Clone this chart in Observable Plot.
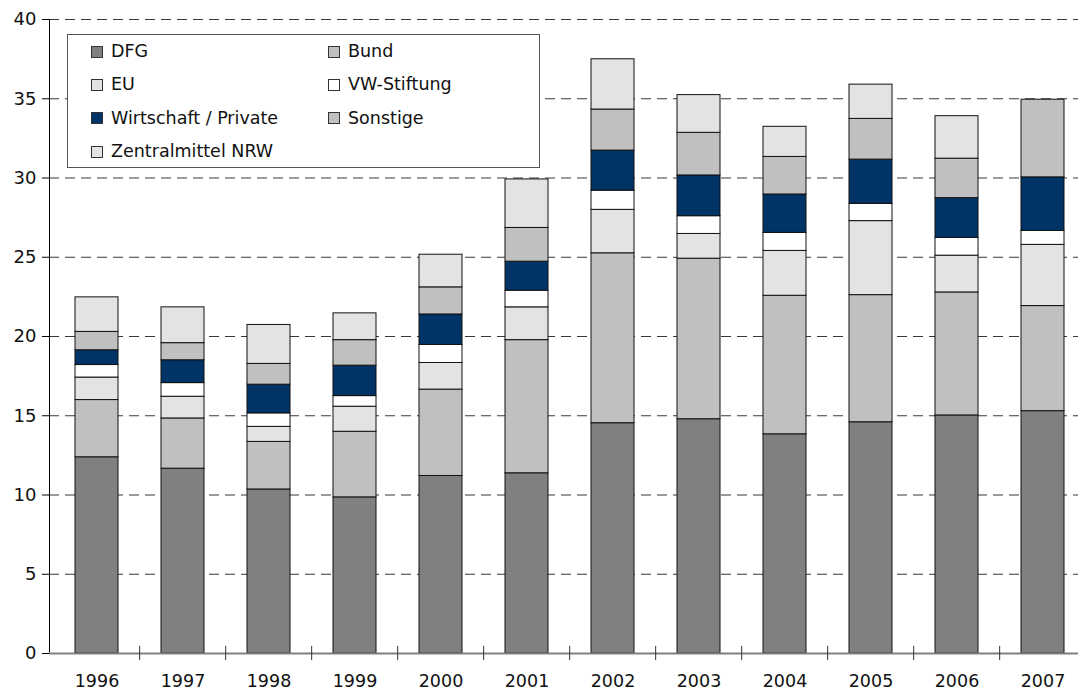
<!DOCTYPE html>
<html><head><meta charset="utf-8">
<script src="https://cdn.jsdelivr.net/npm/d3@7"></script>
<script src="https://cdn.jsdelivr.net/npm/@observablehq/plot@0.6"></script>
<style>
html,body{margin:0;padding:0;background:#fff;overflow:hidden;}
#wrap{position:relative;width:1078px;height:692px;overflow:hidden;font-family:"DejaVu Sans",sans-serif;}
#legend{position:absolute;left:67px;top:34px;width:471px;height:132px;border:1px solid #555;background:#fff;}
.item{position:absolute;height:20px;display:flex;align-items:center;font-size:17.5px;color:#111;white-space:nowrap;line-height:1;}
.sw{width:10px;height:10px;border:1px solid #333;margin-right:8px;flex:none;}
</style></head><body>
<div id="wrap"><div id="chart"></div><div id="legend"></div></div>
<script>
const years = ["1996","1997","1998","1999","2000","2001","2002","2003","2004","2005","2006","2007"];
const seriesNames = ["DFG","Bund","EU","VW-Stiftung","Wirtschaft / Private","Sonstige","Zentralmittel NRW"];
const seriesColors = ["#808080","#c0c0c0","#e3e3e3","#ffffff","#003366","#c0c0c0","#e3e3e3"];
const dfg      = [12.38, 11.66, 10.35, 9.85, 11.20, 11.37, 14.53, 14.78, 13.83, 14.59, 15.02, 15.29];
const bund     = [3.61, 3.17, 3.00, 4.14, 5.45, 8.40, 10.72, 10.13, 8.74, 8.02, 7.76, 6.63];
const eu       = [1.42, 1.37, 0.95, 1.58, 1.68, 2.07, 2.74, 1.56, 2.83, 4.67, 2.32, 3.86];
const vw       = [0.79, 0.86, 0.85, 0.67, 1.14, 1.05, 1.21, 1.12, 1.14, 1.09, 1.12, 0.88];
const wirt     = [0.93, 1.44, 1.81, 1.92, 1.92, 1.83, 2.53, 2.57, 2.42, 2.79, 2.51, 3.38];
const sonstige = [1.16, 1.08, 1.31, 1.61, 1.71, 2.13, 2.59, 2.69, 2.37, 2.57, 2.49, 4.90];
const zentral  = [2.18, 2.26, 2.46, 1.69, 2.06, 3.06, 3.17, 2.38, 1.90, 2.16, 2.68, 0];
const yTicks = [0, 5, 10, 15, 20, 25, 30, 35, 40];
const legendRows = [["DFG","Bund"],["EU","VW-Stiftung"],["Wirtschaft / Private","Sonstige"],["Zentralmittel NRW"]];

const seriesValues = [dfg, bund, eu, vw, wirt, sonstige, zentral];
const rows = [];
years.forEach((yr, i) => {
  seriesNames.forEach((s, j) => rows.push({year: yr, series: s, value: seriesValues[j][i]}));
});

const xRange = [49.5, 1089.5];
const step = (xRange[1] - xRange[0]) / years.length;

const chart = Plot.plot({
  width: 1078, height: 692,
  marginLeft: 49, marginRight: 0, marginTop: 19, marginBottom: 39,
  x: {type: "band", domain: years, range: xRange, paddingInner: 0.5, paddingOuter: 0.25},
  y: {domain: [0, 40]},
  color: {domain: seriesNames, range: seriesColors},
  style: {fontFamily: "DejaVu Sans", fontSize: "18px", background: "white", color: "#111"},
  marks: [
    Plot.ruleY(yTicks.filter(d => d > 0), {stroke: "#383838", strokeDasharray: "10,6", strokeWidth: 1}),
    Plot.barY(rows, {x: "year", y: "value", fill: "series", stroke: "#111", strokeWidth: 1}),
    Plot.frame({anchor: "left", stroke: "#000"}),
    Plot.ruleY([0], {stroke: "#808080", strokeWidth: 2}),
    Plot.ruleX(years.slice(1), {x: d => d, dx: -step / 2, y1: -0.45, y2: 0.45, stroke: "#333"}),
    Plot.axisY({ticks: yTicks, tickSize: 7, tickPadding: 6, fontSize: 18, label: null, stroke: "#000"}),
    Plot.axisX({tickSize: 0, tickPadding: 21, fontSize: 17.5, label: null})
  ]
});
document.getElementById("chart").appendChild(chart);

const leg = document.getElementById("legend");
const colX = [23, 260];
legendRows.forEach((r, ri) => {
  r.forEach((name, ci) => {
    const it = document.createElement("div");
    it.className = "item";
    it.style.left = colX[ci] + "px";
    it.style.top = (16.7 + ri * 33.33 - 10) + "px";
    const sw = document.createElement("span");
    sw.className = "sw";
    sw.style.background = seriesColors[seriesNames.indexOf(name)];
    const tx = document.createElement("span");
    tx.textContent = name;
    it.appendChild(sw); it.appendChild(tx);
    leg.appendChild(it);
  });
});
</script>
</body></html>
